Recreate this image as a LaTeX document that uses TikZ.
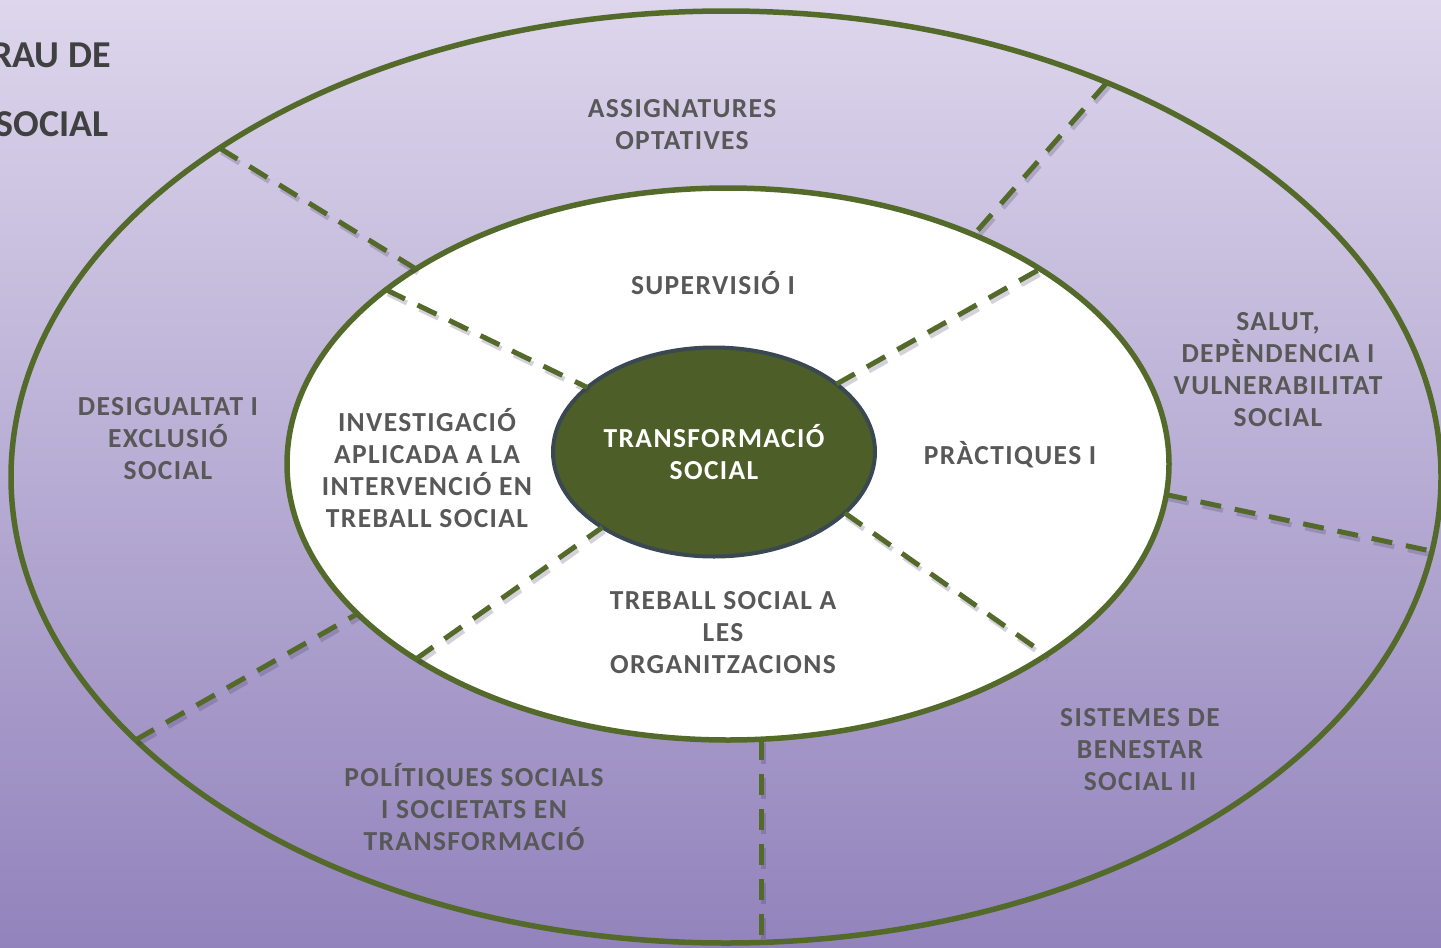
\documentclass[tikz,border=0pt]{standalone}
\usepackage{fontspec}
\setmainfont{Carlito}
\newfontfamily\labfont{Carlito}[LetterSpace=5]
\usetikzlibrary{shapes.geometric}

\definecolor{ringgreen}{RGB}{84,106,42}
\definecolor{coregreen}{RGB}{78,94,40}
\definecolor{coreedge}{RGB}{58,72,82}
\definecolor{bgtop}{RGB}{221,214,236}
\definecolor{bgbottom}{RGB}{146,131,188}
\definecolor{labgray}{RGB}{88,88,88}
\definecolor{titlegray}{RGB}{64,64,64}
\definecolor{shadowc}{RGB}{60,50,90}

\tikzset{
  ring/.style={ellipse, draw=ringgreen, line width=5.5, inner sep=0, outer sep=0},
  dashline/.style={draw=ringgreen, line width=5, dash pattern=on 21pt off 14pt,
    preaction={draw=shadowc, draw opacity=.22, line width=5, dash pattern=on 21pt off 14pt,
      transform canvas={shift={(2,4)}}}},
  lab/.style={font=\labfont\bfseries\fontsize{27.5}{32}\selectfont, text=labgray, align=center},
  title/.style={anchor=east, inner sep=0, font=\bfseries\fontsize{38}{40}\selectfont, text=titlegray}
}

\begin{document}
\begin{tikzpicture}[x=1pt,y=-1pt]
  \shade[top color=bgtop, bottom color=bgbottom] (0,0) rectangle (1441,948);
  \useasboundingbox (0,0) rectangle (1441,948);

  % title, cut at the left edge
  \node[title] (grau) at (111,55) {RAU DE};
  \node[title] (socl) at (109,124) {SOCIAL};

  % the three ellipses
  \node[ring, minimum width=1430, minimum height=932] (outer) at (726,477) {};
  \node[ring, fill=white, minimum width=882, minimum height=552] (inner) at (728,464) {};
  \node[ellipse, fill=coregreen, draw=coreedge, line width=4, inner sep=0, outer sep=0,
    minimum width=322, minimum height=209, text=white, align=center,
    font=\labfont\bfseries\fontsize{27.5}{32}\selectfont] (core) at (714,452) {TRANSFORMACIÓ\\SOCIAL};

  % dashes in the outer ring
  \draw[dashline] (outer.147) -- (inner.148);
  \draw[dashline] (outer.46) -- (inner.43);
  \draw[dashline] (inner.-4) -- (outer.-6);
  \draw[dashline] (inner.-83) -- (inner.-83 |- outer.south);
  \draw[dashline] (outer.204) -- (inner.202);

  % dashes in the inner ring
  \draw[dashline] (inner.153) -- (core.153);
  \draw[dashline] (core.29) -- (inner.32);
  \draw[dashline] (core.-25) -- (inner.-31);
  \draw[dashline] (inner.212) -- (core.214);

  % labels
  \node[lab] (optat) at (682,125) {ASSIGNATURES\\OPTATIVES};
  \node[lab] (superv) at (713,283) {SUPERVISIÓ I};
  \node[lab] (salut) at (1278,370) {SALUT,\\DEPÈNDENCIA I\\VULNERABILITAT\\SOCIAL};
  \node[lab] (pract) at (1010,455) {PRÀCTIQUES I};
  \node[lab] (desig) at (168,439) {DESIGUALTAT I\\EXCLUSIÓ\\SOCIAL};
  \node[lab] (invest) at (427,468) {INVESTIGACIÓ\\APLICADA A LA\\INTERVENCIÓ EN\\TREBALL SOCIAL};
  \node[lab] (orgs) at (723,633) {TREBALL SOCIAL A\\LES\\ORGANITZACIONS};
  \node[lab] (siste) at (1140,750) {SISTEMES DE\\BENESTAR\\SOCIAL II};
  \node[lab] (polit) at (474,807) {POLÍTIQUES SOCIALS\\I SOCIETATS EN\\TRANSFORMACIÓ};
\end{tikzpicture}
\end{document}
